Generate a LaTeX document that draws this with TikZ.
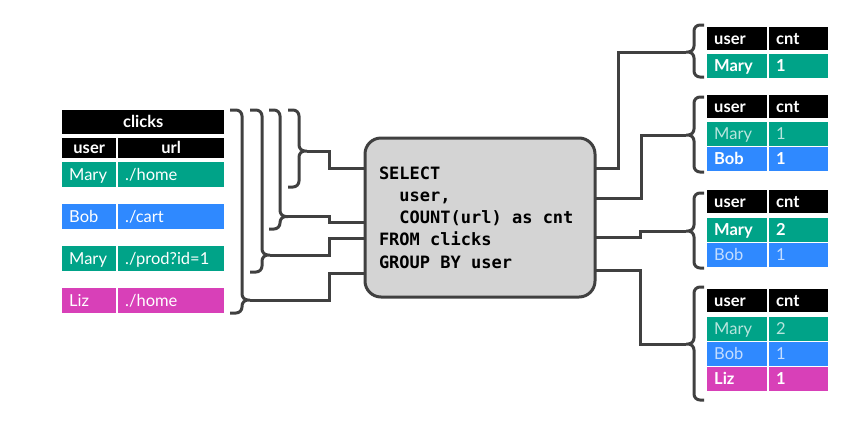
\documentclass[tikz,border=0pt]{standalone}
\usepackage{fontspec}
\setmainfont{Lato}
\setmonofont{DejaVu Sans Mono}

\definecolor{rowgreen}{RGB}{0,163,136}
\definecolor{rowblue}{RGB}{47,137,255}
\definecolor{rowpink}{RGB}{216,64,184}
\definecolor{wiregray}{RGB}{64,64,64}
\definecolor{boxgray}{RGB}{212,212,212}

\begin{document}
\begin{tikzpicture}[
    % pixel-like units, y grows downwards
    x=1pt, y=-1pt,
    line join=miter
]

% ---------------------------------------------------------
% 1. FRAME (same proportions as the reference)
% ---------------------------------------------------------
\path[use as bounding box] (0,0) rectangle (845,421);

\tikzset{cell/.style={anchor=north west, inner xsep=7pt, inner ysep=0pt,
    minimum height=25, text height=12, text depth=1, text=white,
    font=\fontsize{16.5}{18}\selectfont}}
\tikzset{head/.style={fill=black, font=\fontsize{16.5}{18}\selectfont\bfseries}}
\tikzset{new/.style={font=\fontsize{16.5}{18}\selectfont\bfseries}}
\tikzset{old/.style={text opacity=0.72}}
\tikzset{lu/.style={cell, text width=40, align=left}}  % clicks: user column
\tikzset{ll/.style={cell, text width=92, align=left}}  % clicks: url column
\tikzset{ru/.style={cell, text width=46, align=left, minimum height=24}} % result: user
\tikzset{rc/.style={cell, text width=45, align=left, minimum height=24}} % result: cnt
\tikzset{rhead/.style={head, minimum height=23}}
\tikzset{wire/.style={draw=wiregray, line width=3pt}}
\tikzset{brk/.style={wire, rounded corners=6pt}}
\tikzset{query/.style={draw=wiregray, line width=3pt, fill=boxgray,
    rounded corners=16pt, text width=202, minimum height=159,
    inner xsep=14pt, inner ysep=0pt, align=flush left,
    font=\fontsize{17}{22.3}\selectfont\ttfamily\bfseries}}

% ---------------------------------------------------------
% 2. INPUT TABLE (clicks)
% ---------------------------------------------------------
\node[cell, head, minimum width=162, minimum height=24] (clicks) at (62,110) {clicks};
\node[cell, head, minimum width=54, minimum height=20] (hUser) at (62,138) {user};
\node[cell, head, minimum width=106, minimum height=20] (hUrl) at (118,138) {url};

\node[lu, fill=rowgreen] (u1) at (62,162)  {Mary};
\node[ll, fill=rowgreen] (l1) at (118,162) {./home};
\node[lu, fill=rowblue]  (u2) at (62,204)  {Bob};
\node[ll, fill=rowblue]  (l2) at (118,204) {./cart};
\node[lu, fill=rowgreen] (u3) at (62,246)  {Mary};
\node[ll, fill=rowgreen] (l3) at (118,246) {./prod?id=1};
\node[lu, fill=rowpink]  (u4) at (62,288)  {Liz};
\node[ll, fill=rowpink]  (l4) at (118,288) {./home};

% ---------------------------------------------------------
% 3. QUERY
% ---------------------------------------------------------
\node[query] (q) at (480,217.5) {SELECT\\
    \phantom{xx}user,\\
    \phantom{xx}COUNT(url) as cnt\\
    FROM clicks\\
    GROUP BY user};

% Ports on the query box
\coordinate (in1) at (365,168);
\coordinate (in2) at (365,222);
\coordinate (in3) at (365,238);
\coordinate (in4) at (365,273);
\coordinate (out1) at (595,168);
\coordinate (out2) at (595,198);
\coordinate (out3) at (595,237);
\coordinate (out4) at (595,270);

% ---------------------------------------------------------
% 4. BRACES ON THE INPUT (growing prefixes of the table)
% ---------------------------------------------------------
\coordinate (tipA) at (250,300); % all four rows
\coordinate (tipB) at (270,255); % three rows
\coordinate (tipC) at (288,216.5); % two rows
\coordinate (tipD) at (307,151); % first row

\draw[brk] (230,110) -| (242,300) -- (tipA)
           (230,313) -| (242,300) -- (tipA);
\draw[brk] (250,110) -| (262,255) -- (tipB)
           (250,272) -| (262,255) -- (tipB);
\draw[brk] (269,110) -| (280,216.5) -- (tipC)
           (269,229) -| (280,216.5) -- (tipC);
\draw[brk] (288,110) -| (299,151) -- (tipD)
           (288,187) -| (299,151) -- (tipD);

\draw[wire] (tipD) -- ++(22,0) |- (in1);
\draw[wire] (tipC) -- ++(41,0) |- (in2);
\draw[wire] (tipB) -- ++(59,0) |- (in3);
\draw[wire] (tipA) -- ++(79,0) |- (in4);

% ---------------------------------------------------------
% 5. RESULT TABLES
% ---------------------------------------------------------
% after row 1
\node[ru, rhead] (aHu) at (707,27) {user};
\node[rc, rhead] (aHc) at (769,27) {cnt};
\node[ru, new, fill=rowgreen] (a1u) at (707,54) {Mary};
\node[rc, new, fill=rowgreen] (a1c) at (769,54) {1};

% after row 2
\node[ru, rhead] (bHu) at (707,95) {user};
\node[rc, rhead] (bHc) at (769,95) {cnt};
\node[ru, old, fill=rowgreen] (b1u) at (707,122) {Mary};
\node[rc, old, fill=rowgreen] (b1c) at (769,122) {1};
\node[ru, new, fill=rowblue]  (b2u) at (707,147) {Bob};
\node[rc, new, fill=rowblue]  (b2c) at (769,147) {1};

% after row 3
\node[ru, rhead] (cHu) at (707,190) {user};
\node[rc, rhead] (cHc) at (769,190) {cnt};
\node[ru, new, fill=rowgreen] (c1u) at (707,218) {Mary};
\node[rc, new, fill=rowgreen] (c1c) at (769,218) {2};
\node[ru, old, fill=rowblue]  (c2u) at (707,243) {Bob};
\node[rc, old, fill=rowblue]  (c2c) at (769,243) {1};

% after row 4
\node[ru, rhead] (dHu) at (707,289) {user};
\node[rc, rhead] (dHc) at (769,289) {cnt};
\node[ru, old, fill=rowgreen] (d1u) at (707,317) {Mary};
\node[rc, old, fill=rowgreen] (d1c) at (769,317) {2};
\node[ru, old, fill=rowblue]  (d2u) at (707,342) {Bob};
\node[rc, old, fill=rowblue]  (d2c) at (769,342) {1};
\node[ru, new, fill=rowpink]  (d3u) at (707,367) {Liz};
\node[rc, new, fill=rowpink]  (d3c) at (769,367) {1};

% ---------------------------------------------------------
% 6. BRACES ON THE OUTPUT
% ---------------------------------------------------------
\coordinate (tipR1) at (686,52);
\coordinate (tipR2) at (686,135);
\coordinate (tipR3) at (686,231);
\coordinate (tipR4) at (686,344);

\draw[brk] (704,25) -| (694,52) -- (tipR1)
           (704,77) -| (694,52) -- (tipR1);
\draw[brk] (704,97) -| (694,135) -- (tipR2)
           (704,172) -| (694,135) -- (tipR2);
\draw[brk] (704,193) -| (694,231) -- (tipR3)
           (704,268) -| (694,231) -- (tipR3);
\draw[brk] (704,287) -| (694,344) -- (tipR4)
           (704,400) -| (694,344) -- (tipR4);

\draw[wire] (out1) -- ++(23,0) |- (tipR1);
\draw[wire] (out2) -- ++(46,0) |- (tipR2);
\draw[wire] (out3) -- ++(45,0) |- (tipR3);
\draw[wire] (out4) -- ++(45,0) |- (tipR4);

\end{tikzpicture}
\end{document}
